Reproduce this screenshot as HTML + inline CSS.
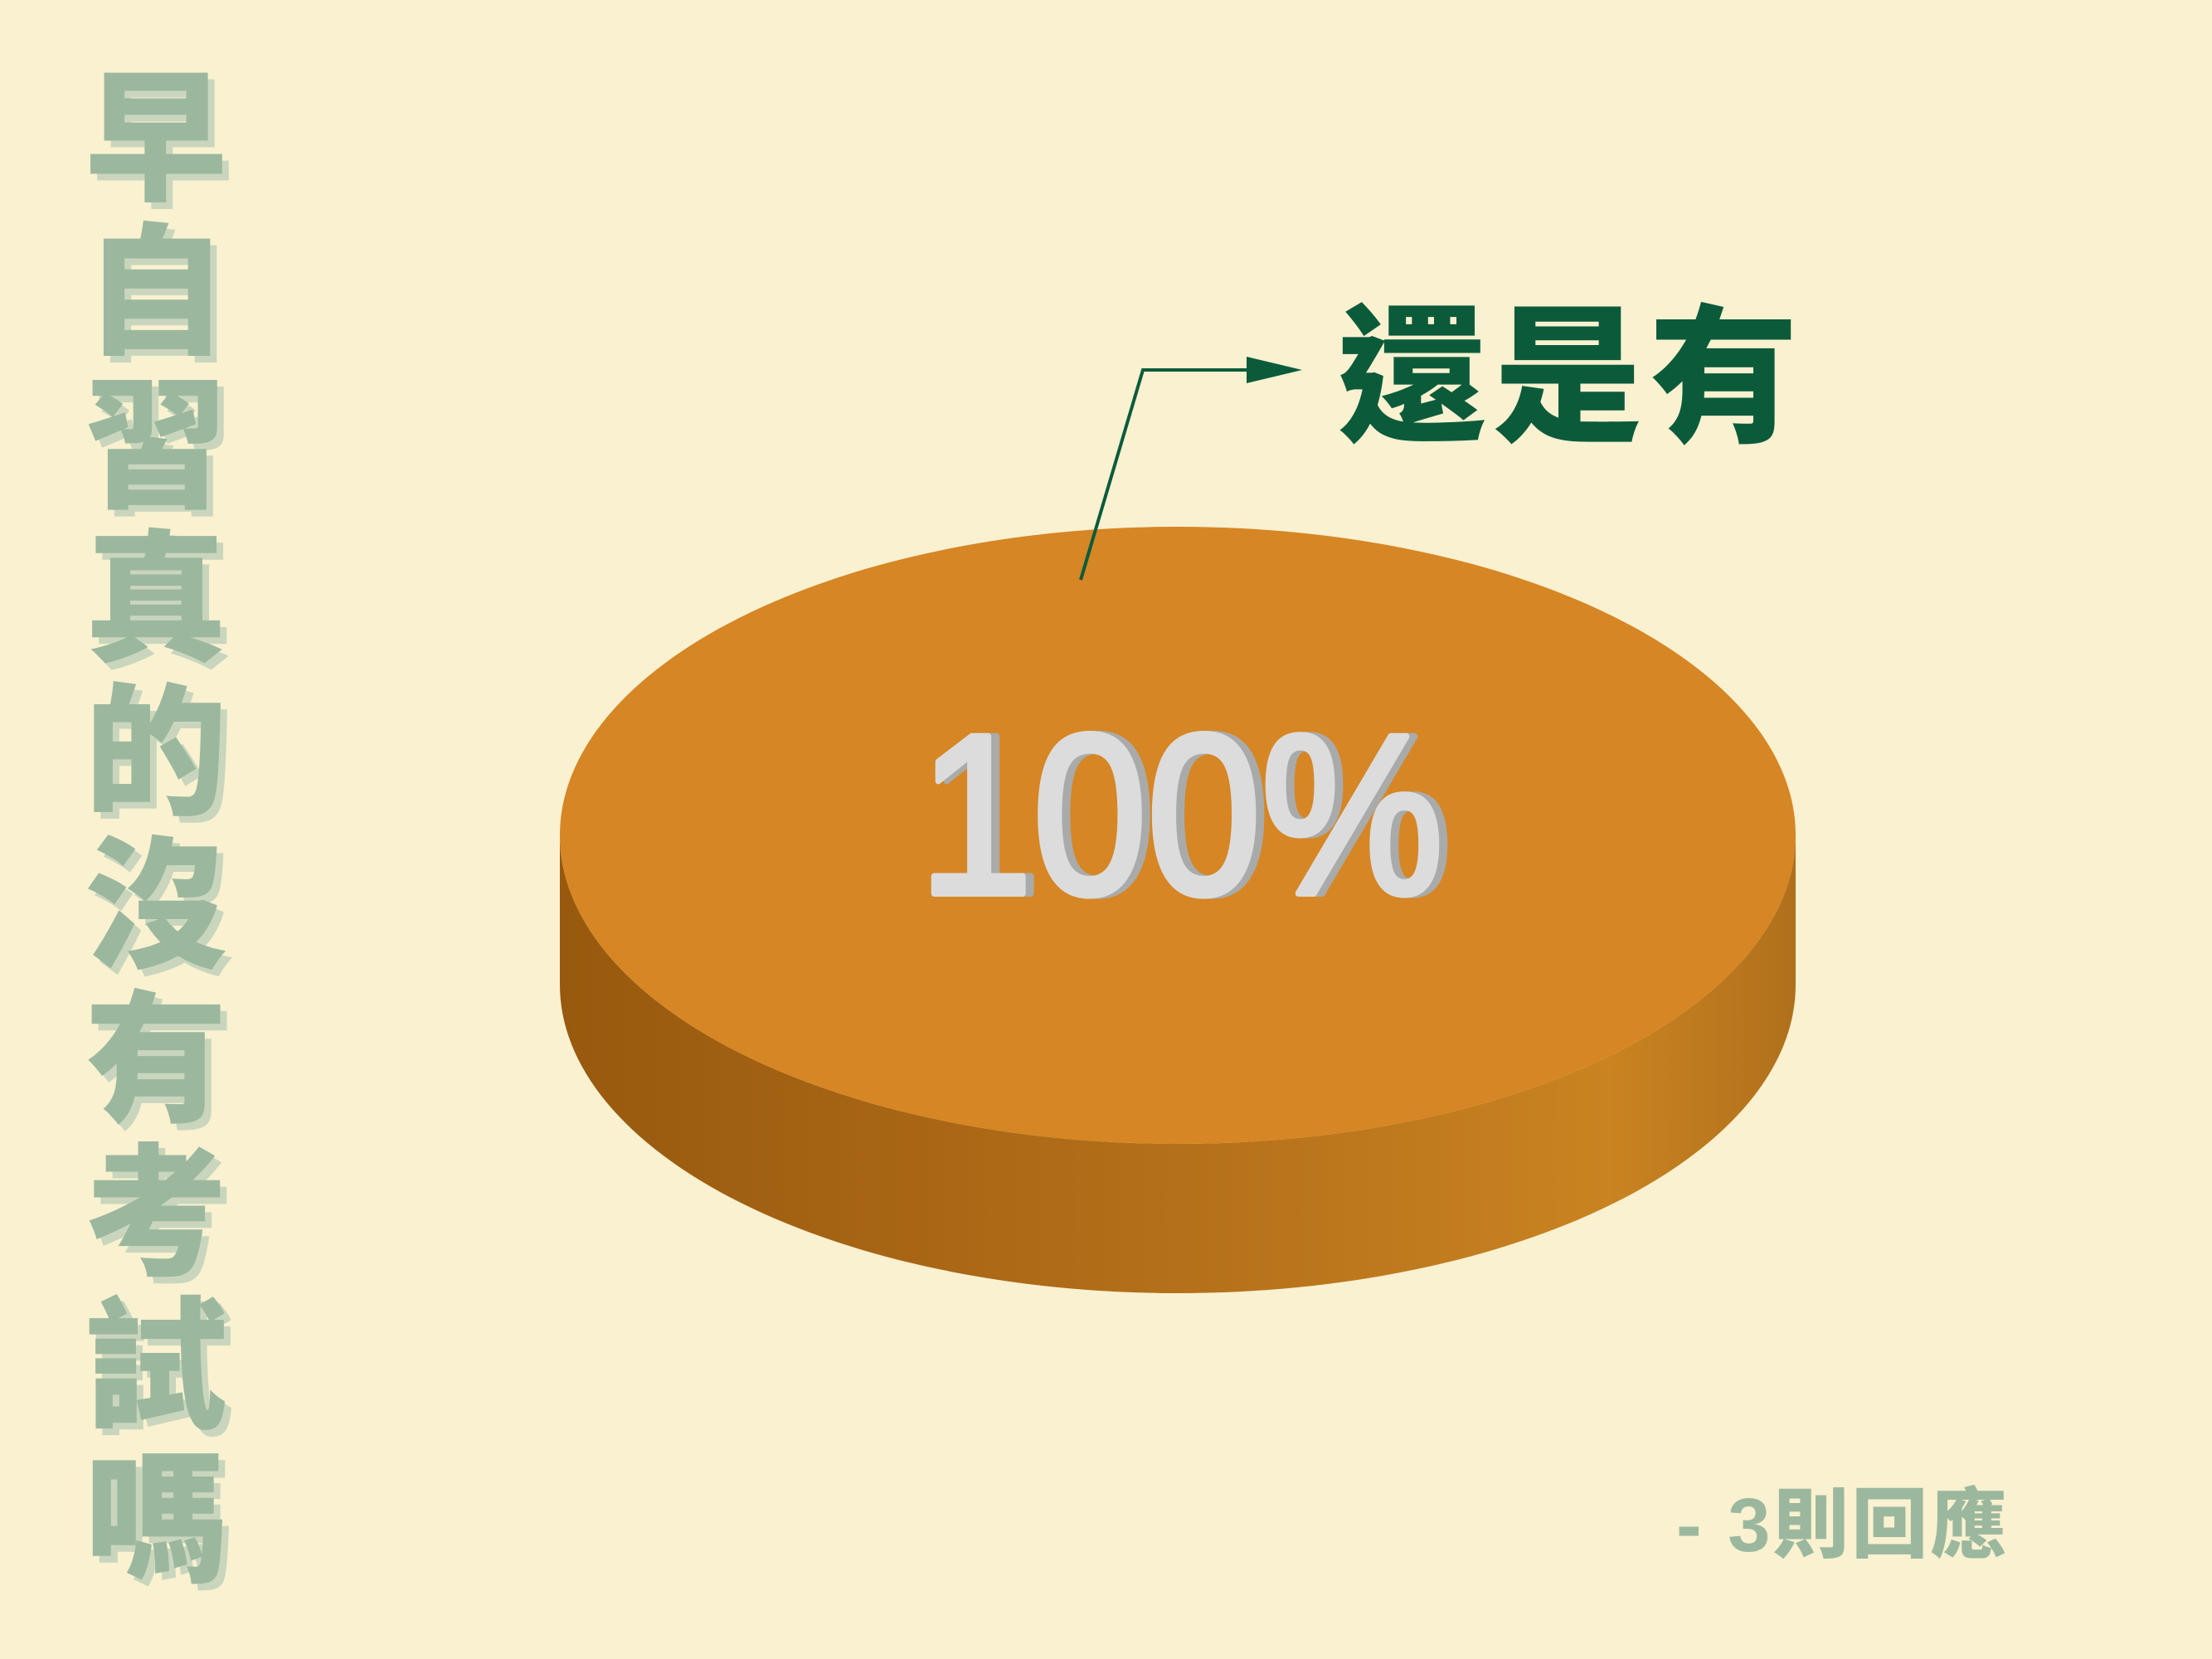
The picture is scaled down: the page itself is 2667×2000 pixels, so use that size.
<!DOCTYPE html>
<html><head><meta charset="utf-8">
<style>
html,body{margin:0;padding:0;background:#f9f1d0;}
svg{display:block;}
</style></head>
<body>
<svg id="chart" width="2667" height="2000" viewBox="0 0 2667 2000" xmlns="http://www.w3.org/2000/svg">
<defs>
<linearGradient id="side" x1="0" x2="1" y1="0" y2="0">
<stop offset="0" stop-color="#98590e"/>
<stop offset="0.5" stop-color="#b4701a"/>
<stop offset="0.85" stop-color="#c98321"/>
<stop offset="1" stop-color="#b0701c"/>
</linearGradient>
</defs>
<rect width="2667" height="2000" fill="#f9f1d0"/>
<g id="title"></g>
<g id="pie"></g>
<g>
<polyline points="1303,699 1378,446 1505,446" fill="none" stroke="#0b5b3b" stroke-width="4"/>
<polygon points="1503,430 1570,446 1503,462" fill="#0b5b3b"/>
</g>
<text id="slabel" x="1612" y="518" font-family="'Liberation Sans','Noto Sans CJK TC',sans-serif" font-weight="900" font-size="180" fill="#0b5b3b" letter-spacing="8"></text>
<g>
<text id="pct2" x="1434" y="1077" text-anchor="middle" font-family="'Liberation Sans',sans-serif" font-weight="400" font-size="275" fill="#a9abab" stroke="#a9abab" stroke-width="8" stroke-linejoin="round" transform="translate(1434 0) scale(0.9 1) translate(-1434 0)"></text>
<text id="pct" x="1424" y="1077" text-anchor="middle" font-family="'Liberation Sans',sans-serif" font-weight="400" font-size="275" fill="#dcdcdc" stroke="#dcdcdc" stroke-width="8" stroke-linejoin="round" transform="translate(1424 0) scale(0.9 1) translate(-1424 0)"></text>
</g>
<text x="2021" y="1870" font-family="'Liberation Sans','Noto Sans CJK TC',sans-serif" font-weight="900" font-size="92" fill="#9bb89e" letter-spacing="3">- 3則回應</text>
</svg>
<script>
const categories = ["還是有"];
const values = [100];
const titleChars = "早自習真的沒有考試嗎";

const NS = "http://www.w3.org/2000/svg";
const cx = 1420, cy = 1007, rx = 745, ry = 372, depth = 180;
const total = values.reduce((a,b)=>a+b,0);
const pie = document.getElementById('pie');

const side = document.createElementNS(NS,'path');
side.setAttribute('d',`M${cx-rx},${cy} L${cx-rx},${cy+depth} A${rx},${ry} 0 0 0 ${cx+rx},${cy+depth} L${cx+rx},${cy} A${rx},${ry} 0 0 1 ${cx-rx},${cy} Z`);
side.setAttribute('fill','url(#side)');


pie.appendChild(side);

let acc = 0;
values.forEach((v,i)=>{
  const frac = v/total;
  let el;
  if (frac >= 0.9999) {
    el = document.createElementNS(NS,'ellipse');
    el.setAttribute('cx',cx); el.setAttribute('cy',cy);
    el.setAttribute('rx',rx); el.setAttribute('ry',ry);
  } else {
    const a0 = acc*2*Math.PI - Math.PI/2, a1 = (acc+frac)*2*Math.PI - Math.PI/2;
    el = document.createElementNS(NS,'path');
    el.setAttribute('d',`M${cx},${cy} L${cx+rx*Math.cos(a0)},${cy+ry*Math.sin(a0)} A${rx},${ry} 0 ${frac>0.5?1:0} 1 ${cx+rx*Math.cos(a1)},${cy+ry*Math.sin(a1)} Z`);
  }
  el.setAttribute('fill','#d68624');
  
  
  pie.appendChild(el);
  acc += frac;
});

document.getElementById('slabel').textContent = categories[0];
document.getElementById('pct').textContent = Math.round(values[0]/total*100) + '%';
document.getElementById('pct2').textContent = Math.round(values[0]/total*100) + '%';

const tg = document.getElementById('title');
[...titleChars].forEach((c,i)=>{
  ['#c9d6bd','#9bb89e'].forEach((col,k)=>{
    const t = document.createElementNS(NS,'text');
    t.setAttribute('x', 188 + (k?0:8));
    t.setAttribute('y', 228 + i*185 + (k?0:8));
    t.setAttribute('text-anchor','middle');
    t.setAttribute('font-family',"'Noto Sans CJK TC',sans-serif");
    t.setAttribute('font-weight','900');
    t.setAttribute('font-size','172');
    t.setAttribute('fill',col);
    t.textContent = c;
    
    
    tg.appendChild(t);
  });
});
</script>
</body></html>
